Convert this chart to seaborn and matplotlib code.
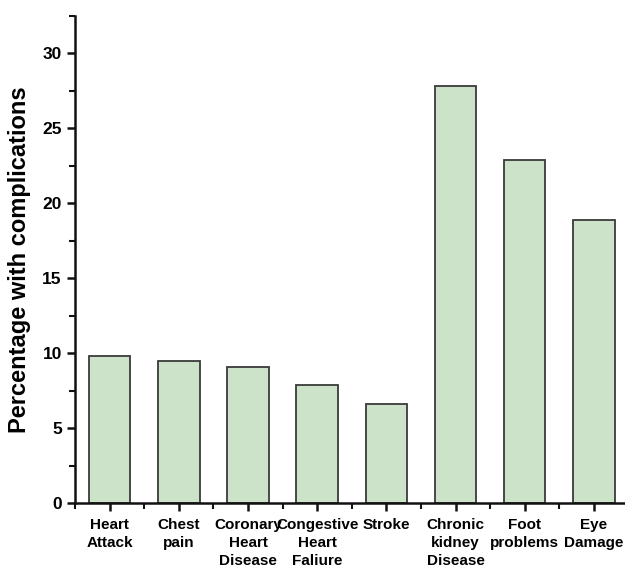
import matplotlib
matplotlib.use("Agg")
import matplotlib.pyplot as plt
import seaborn as sns
import pandas as pd
from matplotlib.ticker import MultipleLocator, FixedLocator

categories = ["Heart\nAttack", "Chest\npain", "Coronary\nHeart\nDisease", "Congestive\nHeart\nFaliure",
              "Stroke", "Chronic\nkidney\nDisease", "Foot\nproblems", "Eye\nDamage"]
values = [9.8, 9.5, 9.1, 7.9, 6.6, 27.8, 22.9, 18.9]

df = pd.DataFrame({"cat": categories, "val": values})

sns.set_theme(style="ticks")
plt.rcParams['font.family'] = ['Liberation Sans', 'DejaVu Sans']
plt.rcParams['text.color'] = 'black'
plt.rcParams['axes.labelcolor'] = 'black'
plt.rcParams['xtick.color'] = 'black'
plt.rcParams['ytick.color'] = 'black'

fig = plt.figure(figsize=(6.25, 5.72), dpi=100)
ax = fig.add_axes([0.12, 0.1206, 0.88, 0.8514])

sns.barplot(data=df, x="cat", y="val", color="#cde3c9", saturation=1, width=0.6,
            edgecolor="#3a3a3a", linewidth=1.3, ax=ax)

ax.set_ylim(0, 32.5)
ax.set_xlim(-0.5, 7.45)
ax.yaxis.set_major_locator(MultipleLocator(5))
ax.yaxis.set_minor_locator(MultipleLocator(2.5))
ax.xaxis.set_minor_locator(FixedLocator([i + 0.5 for i in range(-1, 8)]))

for s in ["top", "right"]:
    ax.spines[s].set_visible(False)
for s in ["left", "bottom"]:
    ax.spines[s].set_linewidth(1.8)
    ax.spines[s].set_color("#111111")

ax.tick_params(axis="both", which="major", length=6, width=1.8, color="#111111")
ax.tick_params(axis="both", which="minor", length=4, width=1.5, color="#111111")
ax.tick_params(axis="y", labelsize=12.5)
ax.tick_params(axis="x", labelsize=11, pad=5)
for lab in ax.get_yticklabels() + ax.get_xticklabels():
    lab.set_fontweight("bold")
for lab in ax.get_xticklabels():
    lab.set_linespacing(1.35)

ax.set_xlabel("")
ax.set_ylabel("Percentage with complications", fontsize=17, fontweight="bold", labelpad=8)

fig.savefig("out.png", dpi=100)
